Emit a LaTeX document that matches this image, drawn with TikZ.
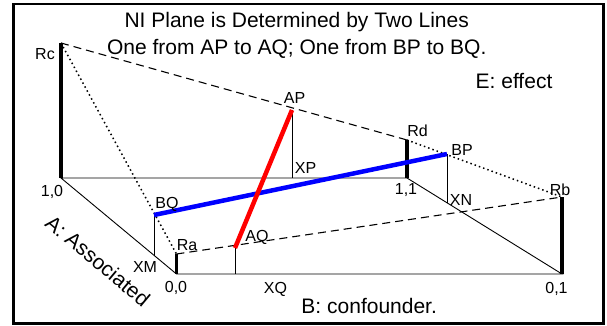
\documentclass[tikz,border=0pt]{standalone}
\usepackage{fontspec}
\setmainfont{Liberation Sans}
\begin{document}
\begin{tikzpicture}[x=1pt,y=-1pt,
  thin line/.style={line width=0.9pt,black},
  bar/.style={line width=3.5pt,black},
  dashline/.style={line width=1.1pt,dash pattern=on 8pt off 5pt},
  dotline/.style={line width=1.5pt,dash pattern=on 1.5pt off 3pt},
  redline/.style={line width=4.5pt,red},
  blueline/.style={line width=4.5pt,blue},
  lbl/.style={inner sep=0pt,anchor=base,font=\fontsize{16}{18}\selectfont},
  big/.style={inner sep=0pt,anchor=base,font=\fontsize{21}{24}\selectfont}]
\useasboundingbox (0,0) rectangle (607,326);
\draw[line width=2.5pt] (13.5,4) rectangle (603.5,323.5);
% corners
\coordinate (c10) at (61,178);
\coordinate (c11) at (407,178);
\coordinate (c00) at (176.5,274);
\coordinate (c01) at (562,274);
\coordinate (rc) at (61,43);
\coordinate (rd) at (407,140);
\coordinate (ra) at (176.5,254);
\coordinate (rb) at (562,197);
\coordinate (ap) at (292,110);
\coordinate (xp) at (292,178);
\coordinate (bp) at (447,154);
\coordinate (xn) at (447,203);
\coordinate (bq) at (154,215);
\coordinate (xm) at (154,255.5);
\coordinate (aq) at (235,248);
\coordinate (xq) at (235,274);
% base frame
\draw[thin line] (c10) -- (c11) -- (c01) -- (c00) -- cycle;
\draw[thin line] (ap) -- (xp);
\draw[thin line] (bp) -- (xn);
\draw[thin line] (bq) -- (xm);
\draw[thin line] (aq) -- (xq);
% dashed and dotted edges
\draw[dashline] (rc) -- (rd);
\draw[dashline] (ra) -- (rb);
\draw[dotline] (rd) -- (rb);
\draw[dotline] (rc) -- (ra);
% bars
\draw[bar] (rc) -- (c10);
\draw[bar] (rd) -- (c11);
\draw[bar] (ra) -- (c00);
\draw[bar] (rb) -- (c01);
% the two lines
\draw[blueline] (bq) -- (bp);
\draw[redline] (ap) -- (aq);
% labels
\node[lbl] (lrc) at (45,60) {Rc};
\node[lbl] (lra) at (187,250) {Ra};
\node[lbl] (lrd) at (417.5,136) {Rd};
\node[lbl] (lrb) at (560,195) {Rb};
\node[lbl] (lap) at (294.5,103) {AP};
\node[lbl] (lxp) at (305.5,173) {XP};
\node[lbl] (lbp) at (462,155) {BP};
\node[lbl] (lbq) at (167,208) {BQ};
\node[lbl] (laq) at (257,241) {AQ};
\node[lbl] (lxm) at (145,272) {XM};
\node[lbl] (lxn) at (461,205) {XN};
\node[lbl] (lxq) at (275.5,293) {XQ};
\node[lbl] (l10) at (52,196) {1,0};
\node[lbl] (l11) at (406,194) {1,1};
\node[lbl] (l00) at (176,292) {0,0};
\node[lbl] (l01) at (556.5,293) {0,1};
\node[big] (t1) at (296.7,27.7) {NI Plane is Determined by Two Lines};
\node[big] (t2) at (296.7,54.3) {One from AP to AQ; One from BP to BQ.};
\node[big] (te) at (514,88.3) {E: effect};
\node[big] (tb) at (369.2,313.3) {B: confounder.};
\node[inner sep=0pt,rotate=-40,font=\fontsize{21}{24}\selectfont] (ta) at (98,261) {A: Associated};
\end{tikzpicture}
\end{document}
